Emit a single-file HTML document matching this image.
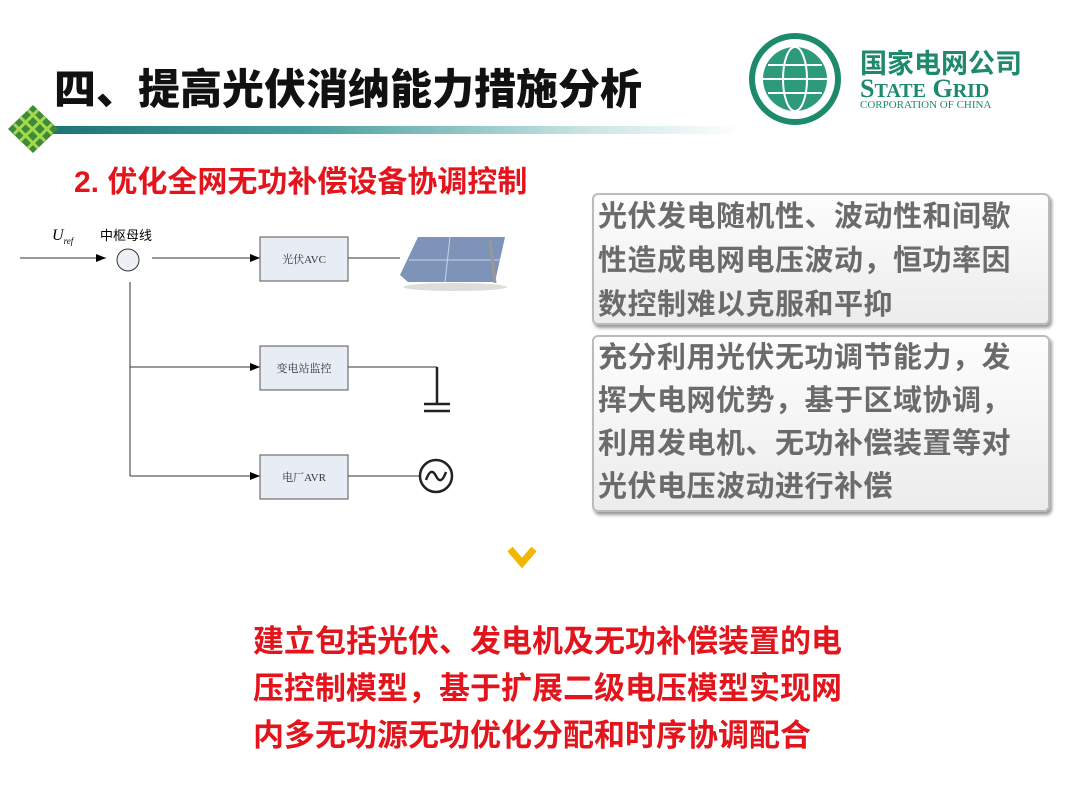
<!DOCTYPE html>
<html><head><meta charset="utf-8"><style>
body{margin:0;width:1080px;height:810px;background:#fff;position:relative;overflow:hidden;font-family:"Liberation Sans","Noto Sans CJK SC",sans-serif}
.a{position:absolute;white-space:nowrap}
.box{position:absolute;left:592px;width:450px;background:linear-gradient(#fdfdfd,#ececec);border:2px solid #bbb;border-radius:6px;box-shadow:2px 3px 3px #999;color:#6b6b6b;font-weight:bold;font-size:29px;line-height:44px;padding-left:4px;letter-spacing:0.5px}
.red{color:#e3141b;font-weight:bold;font-size:31px}
</style></head><body>
<div class="a" style="left:54px;top:56px;font-size:42px;font-weight:900;color:#111">四、提高光伏消纳能力措施分析</div>
<div class="a" style="left:22px;top:126px;width:720px;height:8px;background:linear-gradient(90deg,#1a6e6e,#4aa0a0 40%,#cfe6e6 80%,#fff)"></div>
<svg class="a" style="left:8px;top:105px" width="50" height="48"><polygon points="25,0 50,24 25,48 0,24" fill="#3d8a3a"/><g stroke="#a6d84c" stroke-width="3"><line x1="12" y1="12" x2="37" y2="36"/><line x1="20" y1="5" x2="44" y2="29"/><line x1="6" y1="19" x2="30" y2="43"/><line x1="37" y1="12" x2="12" y2="36"/><line x1="30" y1="5" x2="6" y2="29"/><line x1="44" y1="19" x2="20" y2="43"/></g></svg>
<svg class="a" style="left:748px;top:32px" width="95" height="95"><circle cx="47" cy="47" r="43" fill="none" stroke="#1d8a6c" stroke-width="6"/><circle cx="47" cy="47" r="32" fill="#2e9a7c"/><g stroke="#fff" stroke-width="2" fill="none"><ellipse cx="47" cy="47" rx="12" ry="32"/><line x1="15" y1="47" x2="79" y2="47"/><line x1="20" y1="33" x2="74" y2="33"/><line x1="20" y1="61" x2="74" y2="61"/></g></svg>
<div class="a" style="left:860px;top:42px;font-size:27px;font-weight:bold;color:#1d8a6c">国家电网公司</div>
<div class="a" style="left:860px;top:74px;font-size:26px;font-weight:bold;color:#1d8a6c;font-family:'Liberation Serif',serif">S<span style="font-size:20px">TATE</span> G<span style="font-size:20px">RID</span></div>
<div class="a" style="left:860px;top:99px;font-size:11px;color:#1d8a6c;font-family:'Liberation Serif',serif">CORPORATION OF CHINA</div>
<div class="a red" style="left:74px;top:157px;font-size:30px">2. 优化全网无功补偿设备协调控制</div>

<svg class="a" style="left:0;top:0" width="560" height="600">
<defs><marker id="m" markerWidth="10" markerHeight="8" refX="10" refY="4" orient="auto" markerUnits="userSpaceOnUse"><polygon points="0,0 10,4 0,8" fill="#000"/></marker></defs>
<g stroke="#333" stroke-width="1" fill="none">
<line x1="20" y1="258" x2="106" y2="258" marker-end="url(#m)"/>
<circle cx="128" cy="260" r="11" fill="#eef0f8"/>
<line x1="152" y1="258" x2="260" y2="258" marker-end="url(#m)"/>
<line x1="130" y1="282" x2="130" y2="476"/>
<line x1="130" y1="367" x2="260" y2="367" marker-end="url(#m)"/>
<line x1="130" y1="476" x2="260" y2="476" marker-end="url(#m)"/>
<line x1="348" y1="258" x2="400" y2="258"/>
<line x1="348" y1="367" x2="437" y2="367"/>
<line x1="348" y1="476" x2="420" y2="476"/>
</g>
<g stroke="#222" stroke-width="2.5" fill="none"><line x1="437" y1="367" x2="437" y2="404"/><line x1="424" y1="404" x2="450" y2="404"/><line x1="424" y1="411" x2="450" y2="411"/>
<circle cx="436" cy="476" r="16"/><path d="M426 480 Q431 466 436 476 Q441 486 446 472"/></g>
<g fill="#e8ecf4" stroke="#555"><rect x="260" y="237" width="88" height="44"/><rect x="260" y="346" width="88" height="44"/><rect x="260" y="455" width="88" height="44"/></g>
<g font-size="11" fill="#333" font-family="Liberation Serif,Noto Serif CJK SC,serif" text-anchor="middle"><text x="304" y="263">光伏AVC</text><text x="304" y="372">变电站监控</text><text x="304" y="481">电厂AVR</text></g>
<text x="52" y="240" font-size="16" font-style="italic" font-family="Liberation Serif,serif">U<tspan font-size="9" dy="4">ref</tspan></text>
<text x="100" y="240" font-size="13" font-family="Noto Sans CJK SC,sans-serif">中枢母线</text>
<polygon points="400,275 418,237 505,237 495,282 408,282" fill="#7d93b8"/>
<g stroke="#c8d4e6" stroke-width="1"><line x1="409" y1="260" x2="500" y2="260"/><line x1="450" y1="237" x2="445" y2="282"/></g>
<line x1="490" y1="240" x2="495" y2="283" stroke="#999" stroke-width="3"/>
<ellipse cx="455" cy="287" rx="52" ry="4" fill="#ddd"/>
<polyline points="510,549 522,563 534,549" fill="none" stroke="#f2b705" stroke-width="7"/>
</svg>

<div class="box" style="top:193px;height:128px">光伏发电随机性、波动性和间歇<br>性造成电网电压波动，恒功率因<br>数控制难以克服和平抑</div>
<div class="box" style="top:335px;height:173px;line-height:43px">充分利用光伏无功调节能力，发<br>挥大电网优势，基于区域协调，<br>利用发电机、无功补偿装置等对<br>光伏电压波动进行补偿</div>

<div class="a red" style="left:253px;top:618px;line-height:47px">建立包括光伏、发电机及无功补偿装置的电<br>压控制模型，基于扩展二级电压模型实现网<br>内多无功源无功优化分配和时序协调配合</div>
</body></html>
